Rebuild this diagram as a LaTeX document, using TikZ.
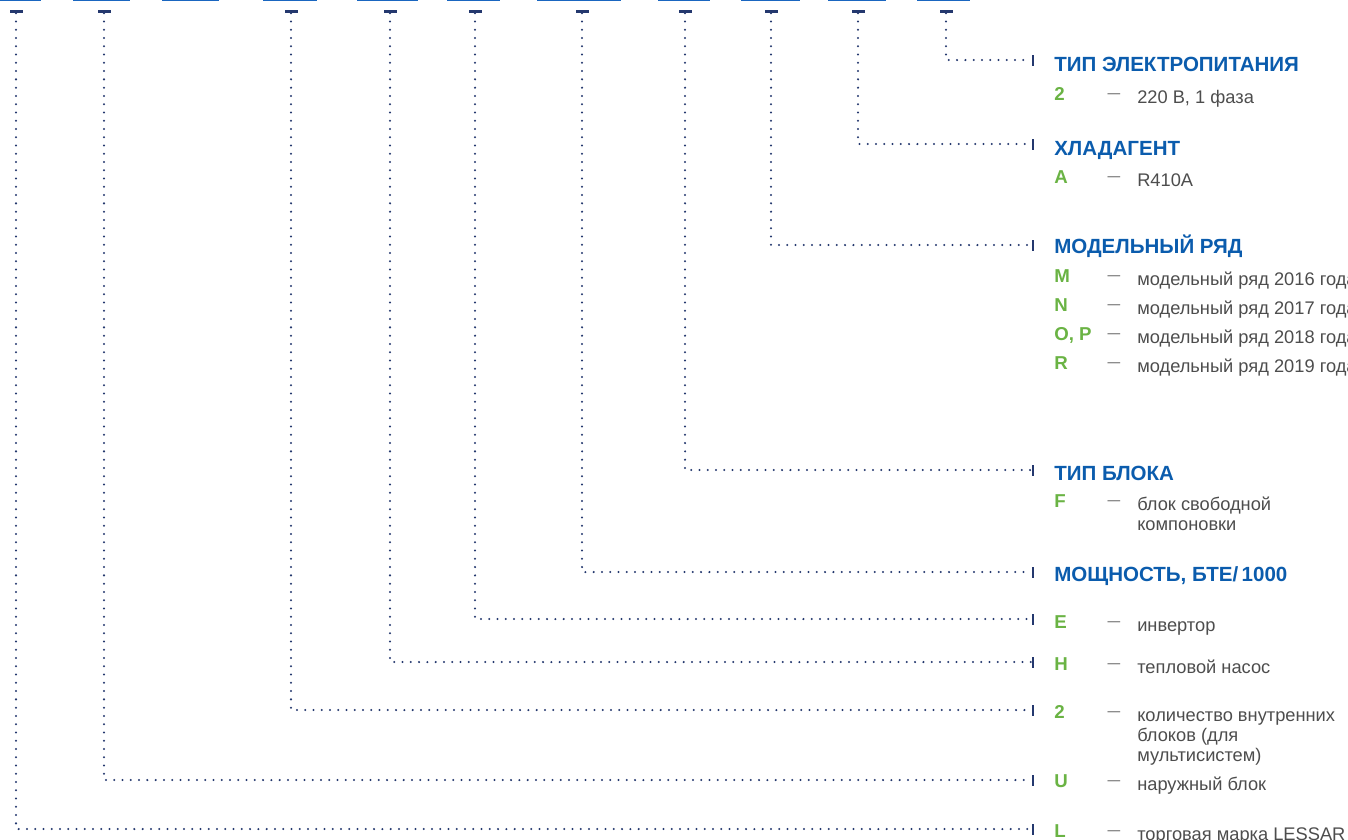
\documentclass[tikz,border=0pt]{standalone}
\usepackage{fontspec}
\setmainfont{Liberation Sans}
\usetikzlibrary{positioning}

\definecolor{barblue}{HTML}{1A66C0}
\definecolor{headblue}{HTML}{0B5CAD}
\definecolor{codegreen}{HTML}{6AB344}
\definecolor{linenavy}{HTML}{24386E}
\definecolor{textgray}{HTML}{4D4D4D}

\begin{document}
\begin{tikzpicture}[x=0.75pt,y=-0.75pt,
  topbar/.style={barblue,line width=1.6pt},
  topdash/.style={fill=linenavy,inner sep=0,minimum width=9.75pt,minimum height=2.2pt},
  endtick/.style={fill=linenavy,inner sep=0,minimum width=2.2pt,minimum height=8.25pt},
  dotline/.style={linenavy,line width=1.7pt,line cap=round,dash pattern=on 0pt off 6.2pt},
  head/.style={anchor=base west,inner sep=0,text=headblue,font=\fontsize{15.4}{18}\selectfont\bfseries},
  code/.style={anchor=base west,inner sep=0,text=codegreen,font=\fontsize{14}{17}\selectfont\bfseries},
  dsh/.style={anchor=base,inner sep=0,text=textgray,font=\fontsize{9.5}{11}\selectfont},
  desc/.style={anchor=base west,inner sep=0,text=textgray,align=left,font=\fontsize{13.7}{15}\selectfont}]
\useasboundingbox (0,0) rectangle (1348,839);

% bottom edges of the code boxes
\draw[topbar] (0,0) -- (41,0);
\draw[topbar] (73,0) -- (130,0);
\draw[topbar] (162,0) -- (219,0);
\draw[topbar] (263,0) -- (317,0);
\draw[topbar] (357,0) -- (418,0);
\draw[topbar] (447,0) -- (500,0);
\draw[topbar] (537,0) -- (621,0);
\draw[topbar] (658,0) -- (710,0);
\draw[topbar] (741,0) -- (800,0);
\draw[topbar] (828,0) -- (886,0);
\draw[topbar] (917,0) -- (970,0);

% marks under the boxes
\node[topdash] (m1) at (16,11.5) {};
\node[topdash] (m2) at (104,11.5) {};
\node[topdash] (m3) at (291,11.5) {};
\node[topdash] (m4) at (390,11.5) {};
\node[topdash] (m5) at (475,11.5) {};
\node[topdash] (m6) at (582,11.5) {};
\node[topdash] (m7) at (685,11.5) {};
\node[topdash] (m8) at (771,11.5) {};
\node[topdash] (m9) at (858,11.5) {};
\node[topdash] (m10) at (946,11.5) {};

% ticks before the legend
\node[endtick] (t1) at (1033,829) {};
\node[endtick] (t2) at (1033,780) {};
\node[endtick] (t3) at (1033,710) {};
\node[endtick] (t4) at (1033,662) {};
\node[endtick] (t5) at (1033,619) {};
\node[endtick] (t6) at (1033,572) {};
\node[endtick] (t7) at (1033,470) {};
\node[endtick] (t8) at (1033,245) {};
\node[endtick] (t9) at (1033,144) {};
\node[endtick] (t10) at (1033,60) {};

\draw[dotline] (m1) |- (t1);
\draw[dotline] (m2) |- (t2);
\draw[dotline] (m3) |- (t3);
\draw[dotline] (m4) |- (t4);
\draw[dotline] (m5) |- (t5);
\draw[dotline] (m6) |- (t6);
\draw[dotline] (m7) |- (t7);
\draw[dotline] (m8) |- (t8);
\draw[dotline] (m9) |- (t9);
\draw[dotline] (m10) |- (t10);

% power supply
\node[head] (power) at (1054,71) {ТИП ЭЛЕКТРОПИТАНИЯ};
\node[code] (power2) at (1054,100) {2};
\node[dsh] at (1114,97.5) {—};
\node[desc] (power2d) at (1137,103) {220 В, 1 фаза};

% refrigerant
\node[head] (refr) at (1054,155) {ХЛАДАГЕНТ};
\node[code] (refrA) at (1054,183) {A};
\node[dsh] at (1114,180.5) {—};
\node[desc] (refrAd) at (1137,186) {R410A};

% model series
\node[head] (series) at (1054,253) {МОДЕЛЬНЫЙ РЯД};
\node[code] (seriesM) at (1054,282) {M};
\node[dsh] at (1114,279.5) {—};
\node[desc] (seriesMd) at (1137,285) {модельный ряд 2016 года};
\node[code] (seriesN) at (1054,311) {N};
\node[dsh] at (1114,308.5) {—};
\node[desc] (seriesNd) at (1137,314) {модельный ряд 2017 года};
\node[code] (seriesOP) at (1054,340) {O, P};
\node[dsh] at (1114,337.5) {—};
\node[desc] (seriesOPd) at (1137,343) {модельный ряд 2018 года};
\node[code] (seriesR) at (1054,369) {R};
\node[dsh] at (1114,366.5) {—};
\node[desc] (seriesRd) at (1137,372) {модельный ряд 2019 года};

% unit type
\node[head] (unit) at (1054,480) {ТИП БЛОКА};
\node[code] (unitF) at (1054,507) {F};
\node[dsh] at (1114,504.5) {—};
\node[desc] (unitFd) at (1137,530) {блок свободной\\компоновки};

% capacity
\node[head] (cap) at (1054,581) {МОЩНОСТЬ, БТЕ/\,1000};

% single letters
\node[code] (inv) at (1054,628) {E};
\node[dsh] at (1114,625.5) {—};
\node[desc] (invd) at (1137,631) {инвертор};
\node[code] (heat) at (1054,670) {H};
\node[dsh] at (1114,667.5) {—};
\node[desc] (heatd) at (1137,673) {тепловой насос};
\node[code] (multi) at (1054,718) {2};
\node[dsh] at (1114,715.5) {—};
\node[desc] (multid) at (1137,761) {количество внутренних\\блоков (для\\мультисистем)};
\node[code] (outd) at (1054,787) {U};
\node[dsh] at (1114,784.5) {—};
\node[desc] (outdd) at (1137,790) {наружный блок};
\node[code] (brand) at (1054,837) {L};
\node[dsh] at (1114,834.5) {—};
\node[desc] (brandd) at (1137,840) {торговая марка LESSAR};
\end{tikzpicture}
\end{document}
